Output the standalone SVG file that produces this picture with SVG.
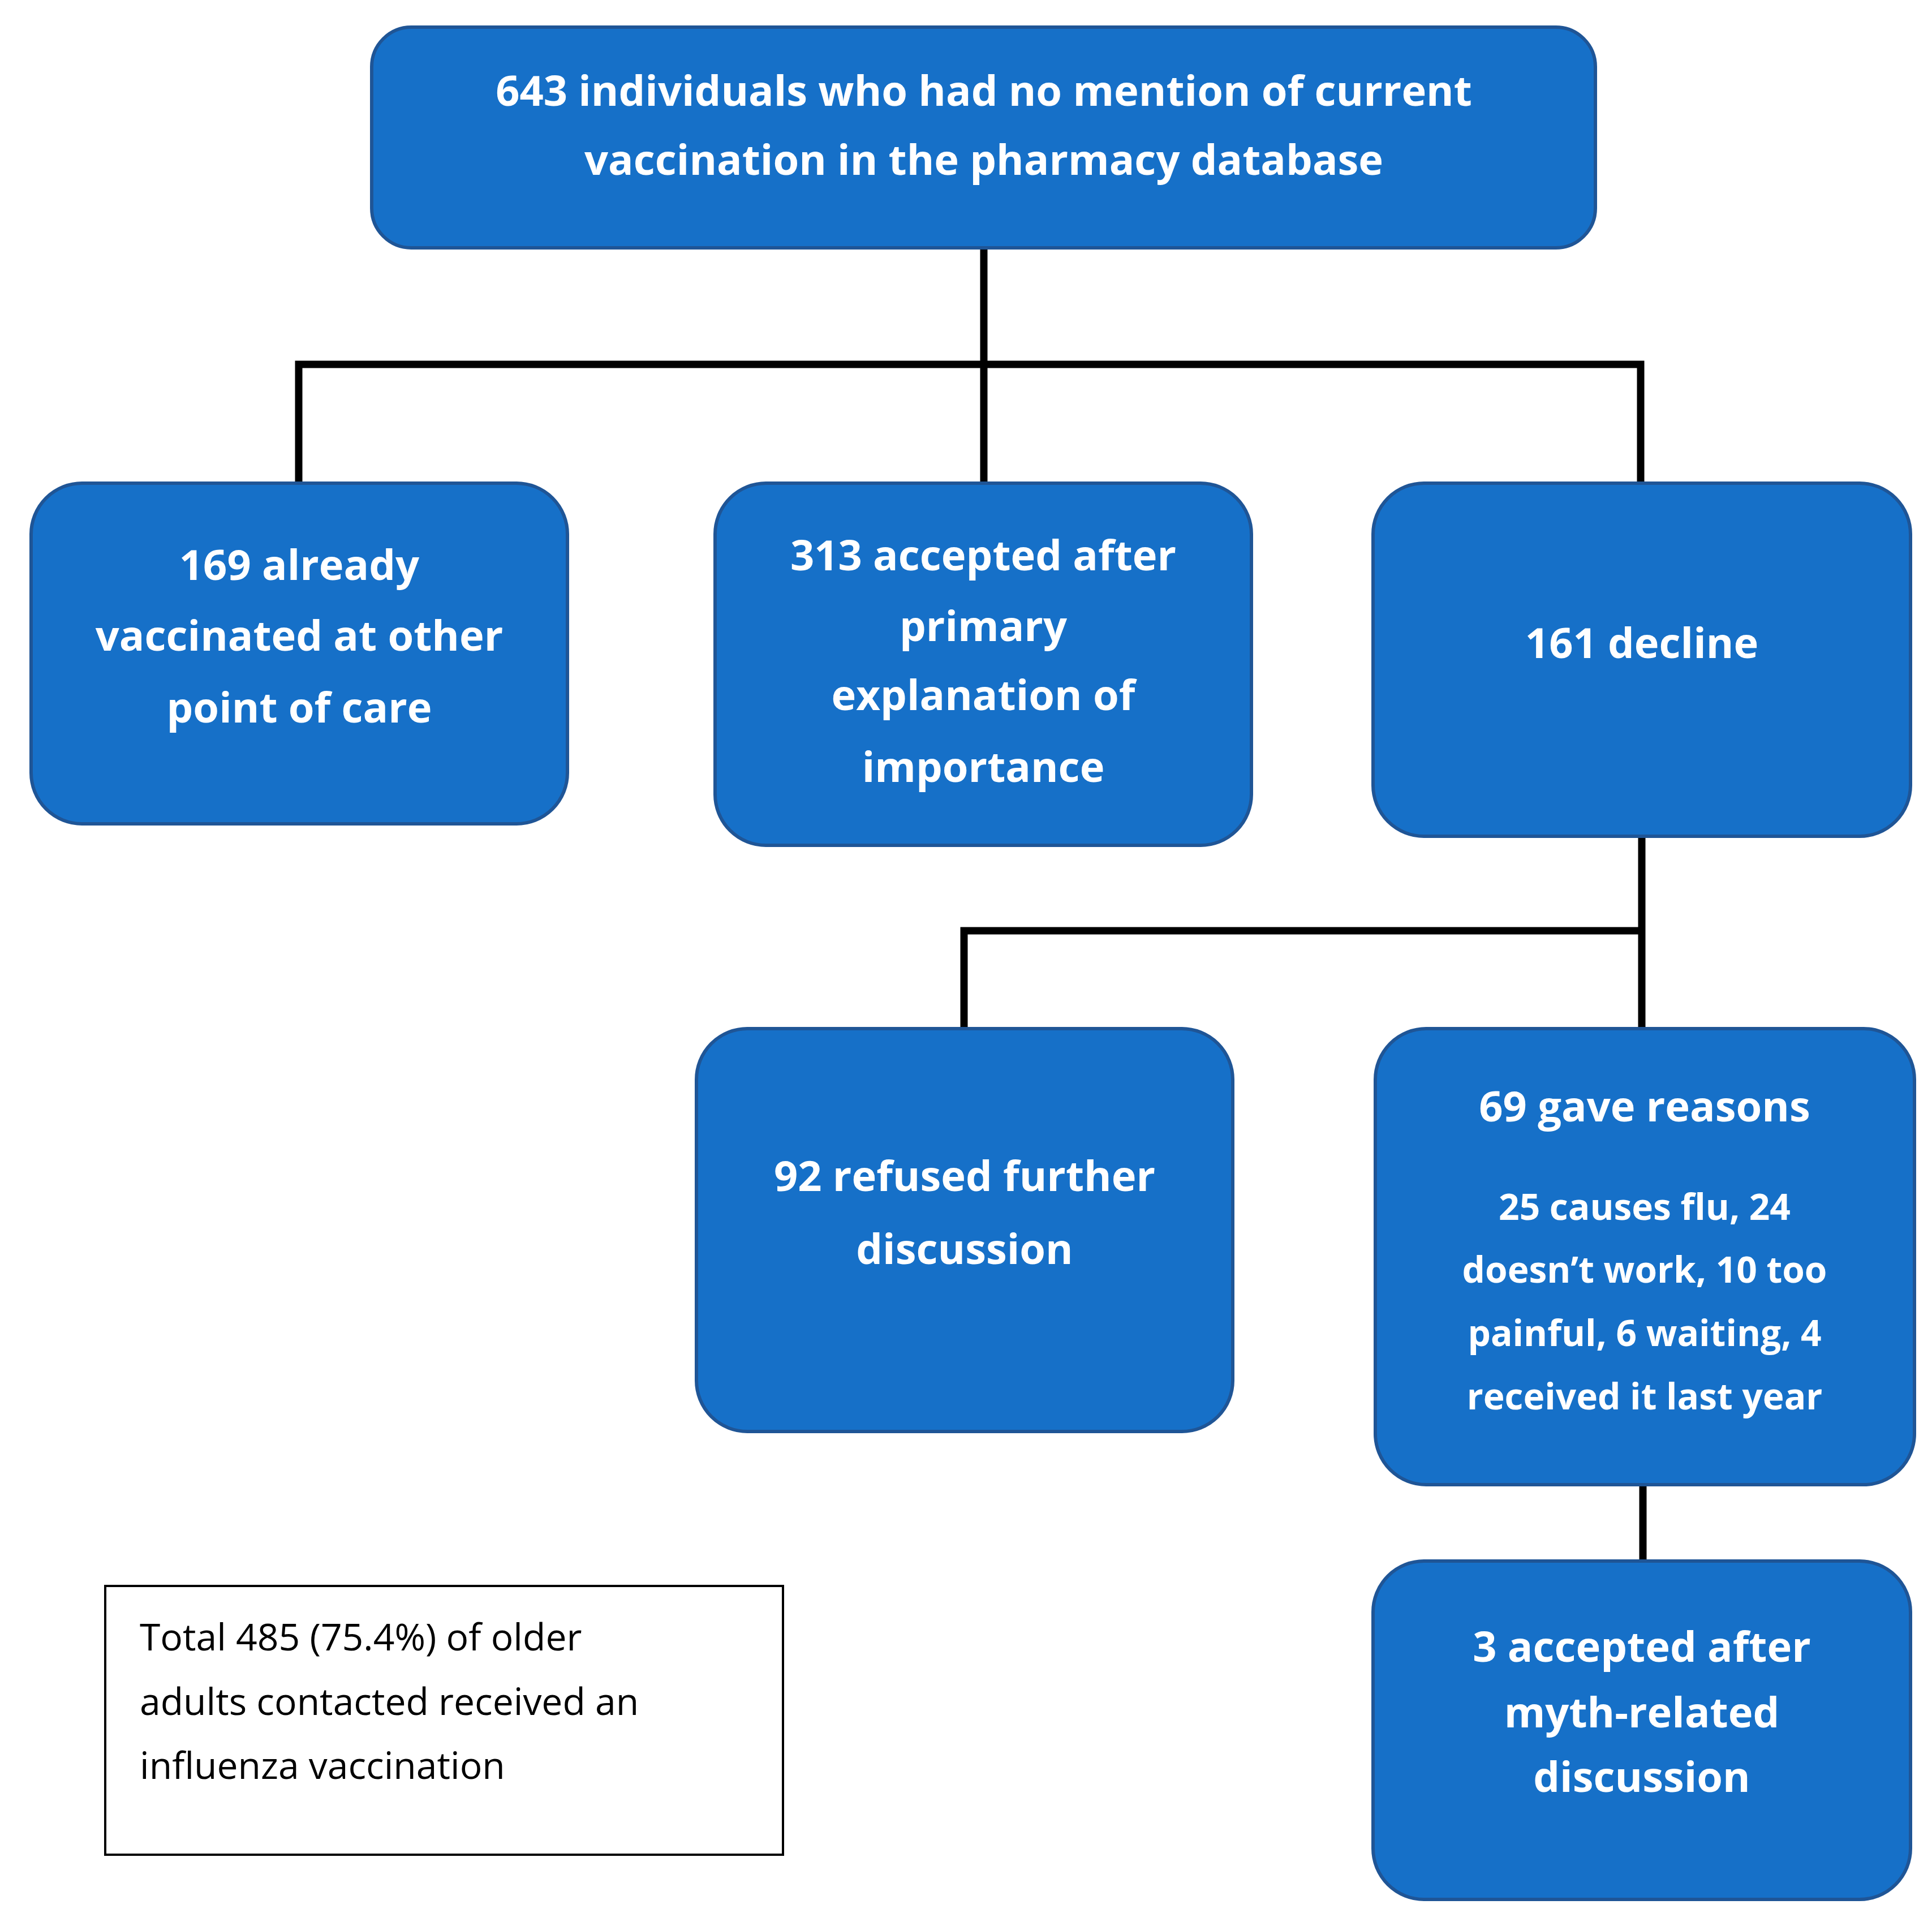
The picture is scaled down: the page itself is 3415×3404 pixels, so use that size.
<svg xmlns="http://www.w3.org/2000/svg" width="3415" height="3404" viewBox="0 0 3415 3404">
<style>
.b{fill:#1670C8;stroke:#1F5596;stroke-width:6}
.t{font-family:"Open Sans","Liberation Sans",sans-serif;font-weight:bold;fill:#fff;text-anchor:middle;dominant-baseline:central;font-size:74px}
.s{font-size:64px}
.c{fill:none;stroke:#000;stroke-width:13}
.n{font-family:"Open Sans","Liberation Sans",sans-serif;fill:#000;font-size:66px;dominant-baseline:central}
</style>
<rect width="3415" height="3404" fill="#fff"/>
<g id="connectors" class="c">
<path d="M1739 438V644M528 854V644H2900V854M1739 644V854"/>
<path d="M2902 1478V1818M2902 1645H1704V1818M2904 2624V2759"/>
</g>
<g id="n0"><rect class="b" x="657" y="48" width="2163" height="390" rx="70"/>
<text class="t" x="1739" y="158">643 individuals who had no mention of current</text>
<text class="t" x="1739" y="280">vaccination in the pharmacy database</text></g>
<g id="n1"><rect class="b" x="55" y="854" width="948" height="602" rx="90"/>
<text class="t" x="529" y="996">169 already</text><text class="t" x="529" y="1121">vaccinated at other</text><text class="t" x="529" y="1248">point of care</text></g>
<g id="n2"><rect class="b" x="1264" y="854" width="948" height="640" rx="90"/>
<text class="t" x="1738" y="979">313 accepted after</text><text class="t" x="1738" y="1104">primary</text><text class="t" x="1738" y="1226">explanation of</text><text class="t" x="1738" y="1353">importance</text></g>
<g id="n3"><rect class="b" x="2427" y="854" width="950" height="624" rx="90"/>
<text class="t" x="2902" y="1134">161 decline</text></g>
<g id="n4"><rect class="b" x="1231" y="1818" width="948" height="712" rx="90"/>
<text class="t" x="1705" y="2076">92 refused further</text><text class="t" x="1705" y="2205">discussion</text></g>
<g id="n5"><rect class="b" x="2431" y="1818" width="953" height="806" rx="90"/>
<text class="t" x="2907" y="1953">69 gave reasons</text>
<text class="t s" x="2907" y="2131">25 causes flu, 24</text><text class="t s" x="2907" y="2242">doesn’t work, 10 too</text><text class="t s" x="2907" y="2354">painful, 6 waiting, 4</text><text class="t s" x="2907" y="2466">received  it last year</text></g>
<g id="n6"><rect class="b" x="2427" y="2759" width="950" height="598" rx="90"/>
<text class="t" x="2902" y="2908">3 accepted after</text><text class="t" x="2902" y="3024">myth-related</text><text class="t" x="2902" y="3138">discussion</text></g>
<g id="n7"><rect x="186" y="2803" width="1198" height="475" fill="#fff" stroke="#000" stroke-width="4"/>
<text class="n" x="247" y="2891">Total 485 (75.4%)  of older</text><text class="n" x="247" y="3005">adults contacted received  an</text><text class="n" x="247" y="3118">influenza  vaccination</text></g>
</svg>
